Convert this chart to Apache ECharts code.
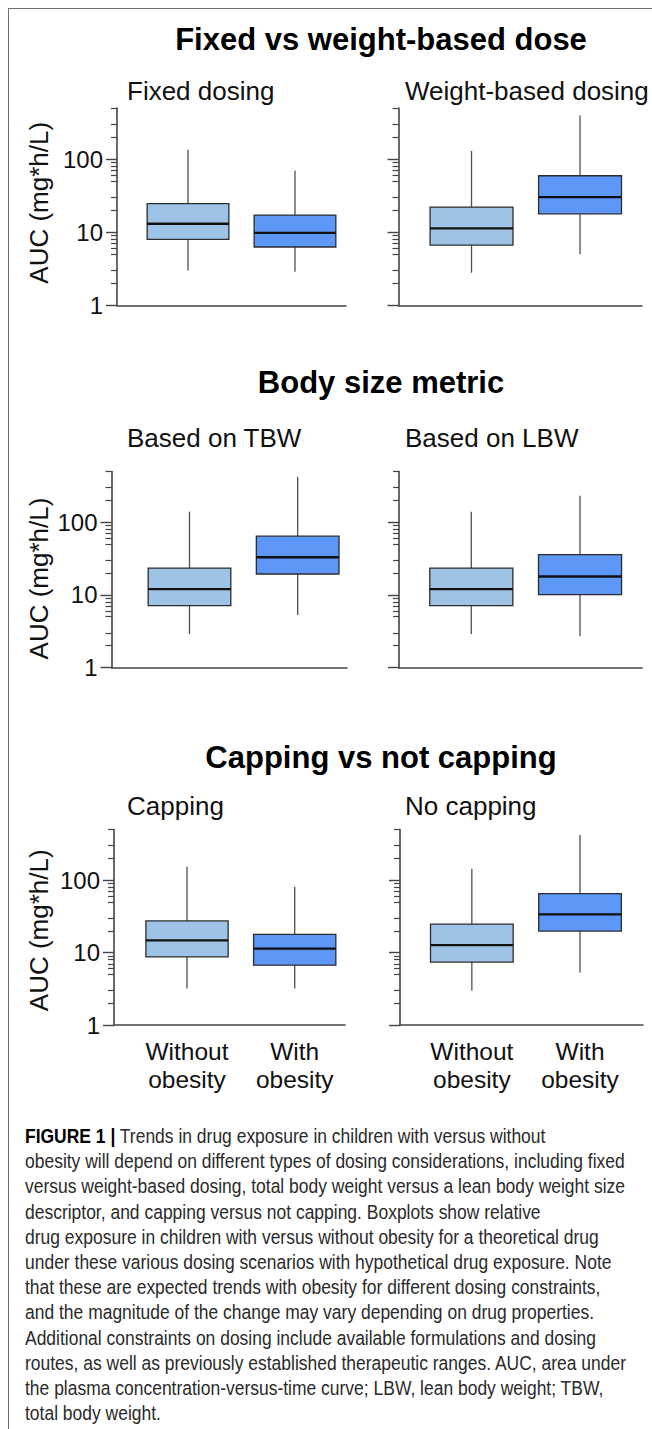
<!DOCTYPE html>
<html>
<head>
<meta charset="utf-8">
<script src="https://cdn.jsdelivr.net/npm/echarts@6/dist/echarts.min.js"></script>
<style>
html,body{margin:0;padding:0;background:#fff;}
#wrap{position:relative;width:652px;height:1429px;overflow:hidden;background:#fff;}
#chart{position:absolute;left:0;top:0;width:652px;height:1100px;}
#frame{position:absolute;left:8px;top:8px;width:700px;height:1500px;border-top:1.5px solid #707070;border-left:1.5px solid #707070;pointer-events:none;}
#caption{position:absolute;left:25px;top:1123px;font-family:'Liberation Sans Narrow','Liberation Sans',Arial,sans-serif;font-size:20.5px;line-height:25.2px;color:#2a2a2a;transform-origin:0 0;white-space:nowrap;}
#caption b{color:#000;}
</style>
</head>
<body>
<div id="wrap">
  <div id="chart"></div>
  <div id="frame"></div>
  <div id="caption">
    <div><b>FIGURE 1 |</b> Trends in drug exposure in children with versus without</div>
    <div>obesity will depend on different types of dosing considerations, including fixed</div>
    <div>versus weight-based dosing, total body weight versus a lean body weight size</div>
    <div>descriptor, and capping versus not capping. Boxplots show relative</div>
    <div>drug exposure in children with versus without obesity for a theoretical drug</div>
    <div>under these various dosing scenarios with hypothetical drug exposure. Note</div>
    <div>that these are expected trends with obesity for different dosing constraints,</div>
    <div>and the magnitude of the change may vary depending on drug properties.</div>
    <div>Additional constraints on dosing include available formulations and dosing</div>
    <div>routes, as well as previously established therapeutic ranges. AUC, area under</div>
    <div>the plasma concentration-versus-time curve; LBW, lean body weight; TBW,</div>
    <div>total body weight.</div>
  </div>
</div>
<script>
// ---------- data ----------
const rowTitles = ['Fixed vs weight-based dose', 'Body size metric', 'Capping vs not capping'];
const panelTitles = ['Fixed dosing', 'Weight-based dosing', 'Based on TBW', 'Based on LBW', 'Capping', 'No capping'];
const groupLabels = ['Without\nobesity', 'With\nobesity'];
const yAxisName = 'AUC (mg*h/L)';
const yLabelTicks = [1, 10, 100];
const yMinorTicks = [2, 3, 5, 6, 7, 8, 9, 20, 30, 50, 60, 70, 80, 90, 200, 300, 500];
// each box: [min, Q1, median, Q3, max]
const fixedWithout = [3.0, 8.0, 13.1, 24.7, 134];
const fixedWith = [2.9, 6.3, 9.8, 17.2, 70];
const weightWithout = [2.8, 6.7, 11.3, 22.1, 130];
const weightWith = [5.0, 17.9, 30.2, 59.3, 395];
const tbwWithout = [2.9, 7.1, 12.0, 23.4, 140];
const tbwWith = [5.3, 19.4, 33.0, 64.4, 424];
const lbwWithout = [2.9, 7.1, 12.0, 23.4, 140];
const lbwWith = [2.7, 10.1, 17.9, 35.8, 232];
const capWithout = [3.2, 8.7, 14.7, 27.3, 153];
const capWith = [3.2, 6.7, 11.3, 17.8, 81];
const nocapWithout = [3.0, 7.4, 12.7, 24.7, 144];
const nocapWith = [5.3, 19.8, 33.7, 65.3, 419];

const panelData = [
  [fixedWithout, fixedWith], [weightWithout, weightWith],
  [tbwWithout, tbwWith], [lbwWithout, lbwWith],
  [capWithout, capWith], [nocapWithout, nocapWith]
];

// ---------- layout / style ----------
const boxColors = ['#9dc4e7', '#5d97f8'];
const FONT = '"Liberation Sans", Arial, Helvetica, sans-serif';
const panelLayout = [
  {left: 117,   top: 108,   width: 229,   height: 197.5, xMin: -0.664, xMax: 1.477, gap: 65, namePad: [0, 0, 0, 8]},
  {left: 398.5, top: 108,   width: 243.5, height: 197.5, xMin: -0.673, xMax: 1.571},
  {left: 111.5, top: 471.5, width: 235.5, height: 196,   xMin: -0.721, xMax: 1.456, gap: 59.5, namePad: [0, 18, 0, 0]},
  {left: 399,   top: 471.5, width: 243,   height: 196,   xMin: -0.665, xMax: 1.570},
  {left: 114,   top: 829.5, width: 231,   height: 195.5, xMin: -0.678, xMax: 1.467, gap: 62, namePad: [0, 6, 0, 0]},
  {left: 400,   top: 829.5, width: 243,   height: 195.5, xMin: -0.664, xMax: 1.582}
];
const rowTitleY = [39.5, 382, 757];
const subTitleY = [91, 438, 806];
const subTitleX = [127, 405];

function renderBox(params, api) {
  const x = api.value(0);
  const lo = api.value(1), q1 = api.value(2), med = api.value(3), q3 = api.value(4), hi = api.value(5);
  const pHi = api.coord([x, hi]), pQ3 = api.coord([x, q3]), pMed = api.coord([x, med]);
  const pQ1 = api.coord([x, q1]), pLo = api.coord([x, lo]);
  const cx = pMed[0];
  const half = api.coord([x + 0.382, med])[0] - cx;
  const fill = boxColors[params.dataIndex];
  return {
    type: 'group',
    children: [
      {type: 'line', shape: {x1: cx, y1: pHi[1], x2: cx, y2: pQ3[1]}, style: {stroke: '#505050', lineWidth: 1.3}},
      {type: 'line', shape: {x1: cx, y1: pQ1[1], x2: cx, y2: pLo[1]}, style: {stroke: '#505050', lineWidth: 1.3}},
      {type: 'rect', shape: {x: cx - half, y: pQ3[1], width: 2 * half, height: pQ1[1] - pQ3[1]},
       style: {fill: fill, stroke: '#2c2c2c', lineWidth: 1.3}},
      {type: 'line', shape: {x1: cx - half, y1: pMed[1], x2: cx + half, y2: pMed[1]}, style: {stroke: '#111', lineWidth: 2.3}}
    ]
  };
}

const grid = [], xAxis = [], yAxis = [], series = [], graphic = [];
panelLayout.forEach((L, i) => {
  const isLeft = i % 2 === 0;
  const isBottom = i >= 4;
  grid.push({left: L.left, top: L.top, width: L.width, height: L.height, containLabel: false, outerBoundsMode: 'none'});
  xAxis.push({
    type: 'value', gridIndex: i, min: L.xMin, max: L.xMax, position: 'bottom',
    axisLine: {show: true, onZero: false, lineStyle: {color: '#444', width: 1.6}},
    axisTick: {show: false}, splitLine: {show: false},
    axisLabel: isBottom ? {
      show: true, customValues: [0, 1], formatter: v => groupLabels[Math.round(v)],
      fontSize: 24.5, lineHeight: 28, color: '#111', fontFamily: FONT, margin: 12, hideOverlap: false
    } : {show: false}
  });
  yAxis.push({
    type: 'log', logBase: 10, gridIndex: i, min: 1, max: 500, position: 'left',
    name: isLeft ? yAxisName : '', nameLocation: 'middle', nameGap: L.gap || 60, nameRotate: 90,
    nameTextStyle: {fontSize: 26, color: '#111', fontFamily: FONT, padding: L.namePad || 0},
    axisLine: {show: true, onZero: false, lineStyle: {color: '#444', width: 1.6}},
    axisTick: {show: true, customValues: yLabelTicks, length: 11, lineStyle: {color: '#444', width: 1.4}},
    minorTick: {show: false}, splitLine: {show: false},
    axisLabel: isLeft ? {show: true, customValues: yLabelTicks, fontSize: 24, color: '#111', fontFamily: FONT, margin: 14}
                      : {show: false}
  });
  yAxis.push({
    type: 'log', logBase: 10, gridIndex: i, min: 1, max: 500, position: 'left',
    axisLine: {show: false, onZero: false},
    axisTick: {show: true, customValues: yMinorTicks, length: 6, lineStyle: {color: '#444', width: 1.2}},
    splitLine: {show: false}, axisLabel: {show: false}
  });
  series.push({
    type: 'custom', xAxisIndex: i, yAxisIndex: 2 * i, renderItem: renderBox, clip: false,
    encode: {x: 0, y: [1, 2, 3, 4, 5]},
    data: panelData[i].map((box, k) => [k].concat(box))
  });
  graphic.push({
    type: 'text', x: subTitleX[i % 2], y: subTitleY[Math.floor(i / 2)],
    style: {text: panelTitles[i], fill: '#111', font: '26px ' + FONT,
            align: 'left', verticalAlign: 'middle', textAlign: 'left', textVerticalAlign: 'middle'}
  });
});
rowTitles.forEach((t, r) => {
  graphic.push({
    type: 'text', x: 381, y: rowTitleY[r],
    style: {text: t, fill: '#000', font: 'bold 31px ' + FONT,
            align: 'center', verticalAlign: 'middle', textAlign: 'center', textVerticalAlign: 'middle'}
  });
});

const chart = echarts.init(document.getElementById('chart'), null, {renderer: 'svg'});
chart.setOption({
  animation: false,
  backgroundColor: 'transparent',
  textStyle: {fontFamily: FONT},
  grid: grid, xAxis: xAxis, yAxis: yAxis, series: series, graphic: graphic
});

// fit caption lines to the reference's text width
(function fitCaption() {
  const cap = document.getElementById('caption');
  let maxW = 0;
  cap.querySelectorAll('div').forEach(d => {
    d.style.display = 'inline-block';
    maxW = Math.max(maxW, d.getBoundingClientRect().width);
    d.style.display = 'block';
  });
  if (maxW > 0) cap.style.transform = 'scaleX(' + (601 / maxW) + ')';
})();
</script>
</body>
</html>
